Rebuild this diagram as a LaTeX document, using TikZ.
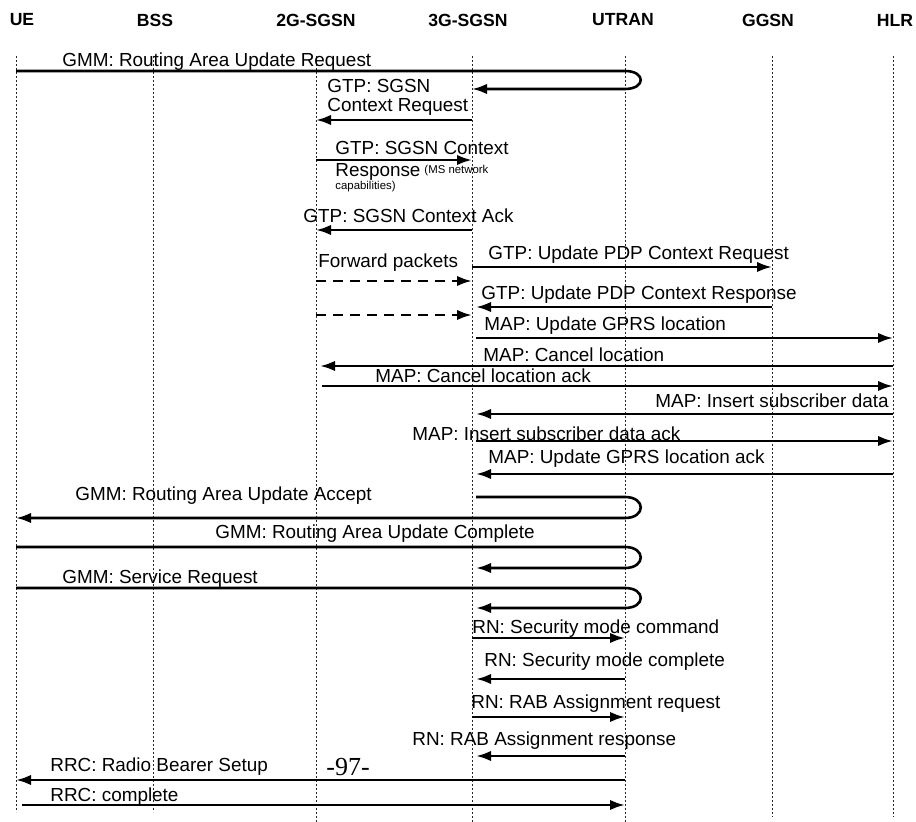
\documentclass[tikz,border=0pt]{standalone}
\usepackage{fontspec}
\setmainfont{Liberation Sans}
\newfontfamily\pagefont{Liberation Serif}
\usetikzlibrary{arrows.meta}

% lifeline positions
\def\xUE{16}
\def\xBSS{153}
\def\xTwoG{316}
\def\xThreeG{472}
\def\xUT{625}
\def\xGG{772}
\def\xHLR{893}

% straight message: name, x from, x to, y, style
\newcommand\sendmsg[5]{%
  \coordinate (#1-s) at (#2,#4);
  \coordinate (#1-e) at (#3,#4);
  \draw[#5] (#1-s) -- (#1-e);}

% message relayed through UTRAN: name, x from, y in, y out, x to
\newcommand\relaymsg[5]{%
  \coordinate (#1-s) at (#2,#3);
  \coordinate (#1-u) at (\xUT,#3);
  \coordinate (#1-v) at (\xUT,#4);
  \coordinate (#1-e) at (#5,#4);
  \draw[msgarrow] (#1-s) -- (#1-u)
    .. controls ([xshift=10.5pt]#1-u) and ([xshift=10.5pt]#1-v) .. (#1-v) -- (#1-e);}

\begin{document}
\begin{tikzpicture}[x=0.5pt,y=-0.5pt,
  lifeline/.style={line width=0.5pt, dash pattern=on 1.2pt off 0.8pt, black!85},
  msgline/.style={line width=1.3pt},
  msgarrow/.style={msgline, -{Latex[length=7.5pt,width=5.2pt]}},
  fwdarrow/.style={msgarrow, dash pattern=on 5pt off 3.5pt},
  head/.style={font=\bfseries\fontsize{8.8pt}{10pt}\selectfont, inner sep=0},
  lbl/.style={font=\fontsize{9.45pt}{11pt}\selectfont, anchor=west, inner sep=0,
    text height=6.8pt, text depth=0pt},
  small/.style={font=\fontsize{5.7pt}{6.5pt}\selectfont, anchor=west, inner sep=0,
    text height=4pt, text depth=0pt},
]
\fill[white] (0,0) rectangle (916,822);
\useasboundingbox (0,0) rectangle (916,822);

% entity headers
\node[head] (hUE)  at (22,20)  {UE};
\node[head] (hBSS) at (155,20) {BSS};
\node[head] (hTwoG) at (316,20) {2G-SGSN};
\node[head] (hThreeG) at (468,20) {3G-SGSN};
\node[head] (hUT)  at (623,20) {UTRAN};
\node[head] (hGG)  at (768,20) {GGSN};
\node[head] (hHLR) at (895,20) {HLR};

% lifelines
\foreach \n/\x/\b in {ue/\xUE/812, bss/\xBSS/812, twog/\xTwoG/822, threeg/\xThreeG/822,
                      utran/\xUT/822, ggsn/\xGG/817, hlr/\xHLR/817} {
  \coordinate (\n-top) at (\x,56);
  \coordinate (\n-bot) at (\x,\b);
  \draw[lifeline] (\n-top) -- (\n-bot);
}

% routing area update
\node[lbl] (l1) at (62,60) {GMM: Routing Area Update Request};
\relaymsg{m1}{\xUE}{71}{89}{\xThreeG}

\node[lbl] (l2a) at (327,86) {GTP: SGSN};
\node[lbl] (l2b) at (327,105) {Context Request};
\sendmsg{m2}{\xThreeG}{\xTwoG}{120}{msgarrow}

\node[lbl] (l3a) at (335,148) {GTP: SGSN Context};
\sendmsg{m3}{\xTwoG}{\xThreeG}{160}{msgarrow}
\node[lbl] (l3b) at (335,170) {Response};
\node[small] (l3c) at (l3b.east) {\ (MS network};
\node[small] (l3d) at (335,186) {capabilities)};

\node[lbl] (l4) at (303,216) {GTP: SGSN Context Ack};
\sendmsg{m4}{\xThreeG}{\xTwoG}{230}{msgarrow}

\node[lbl] (l5) at (488,253) {GTP: Update PDP Context Request};
\sendmsg{m5}{\xThreeG}{\xGG}{267}{msgarrow}

\node[lbl] (l6) at (318,261) {Forward packets};
\sendmsg{m6}{\xTwoG}{\xThreeG}{281}{fwdarrow}

\node[lbl] (l7) at (481,293) {GTP: Update PDP Context Response};
\sendmsg{m7}{\xGG}{476}{307}{msgarrow}
\sendmsg{m8}{\xTwoG}{\xThreeG}{315}{fwdarrow}

\node[lbl] (l9) at (484,324) {MAP: Update GPRS location};
\sendmsg{m9}{476}{\xHLR}{338}{msgarrow}

\node[lbl] (l10) at (483,355) {MAP: Cancel location};
\sendmsg{m10}{\xHLR}{320}{366}{msgarrow}

\node[lbl] (l11) at (375,376) {MAP: Cancel location ack};
\sendmsg{m11}{322}{\xHLR}{386}{msgarrow}

\node[lbl] (l12) at (655,401) {MAP: Insert subscriber data};
\sendmsg{m12}{\xHLR}{476}{414}{msgarrow}

\node[lbl] (l13) at (412,434) {MAP: Insert subscriber data ack};
\sendmsg{m13}{476}{\xHLR}{441}{msgarrow}

\node[lbl] (l14) at (488,457) {MAP: Update GPRS location ack};
\sendmsg{m14}{\xHLR}{476}{474}{msgarrow}

\node[lbl] (l15) at (75,494) {GMM: Routing Area Update Accept};
\relaymsg{m15}{476}{497}{518}{\xUE}

\node[lbl] (l16) at (215,532) {GMM: Routing Area Update Complete};
\relaymsg{m16}{\xUE}{547}{568}{476}

% service request
\node[lbl] (l17) at (62,577) {GMM: Service Request};
\relaymsg{m17}{\xUE}{588}{608}{476}

\node[lbl] (l18) at (472,627) {RN: Security mode command};
\sendmsg{m18}{\xThreeG}{\xUT}{638}{msgarrow}

\node[lbl] (l19) at (484,660) {RN: Security mode complete};
\sendmsg{m19}{\xUT}{476}{679}{msgarrow}

\node[lbl] (l20) at (471,702) {RN: RAB Assignment request};
\sendmsg{m20}{\xThreeG}{\xUT}{717}{msgarrow}

\node[lbl] (l21) at (412,739) {RN: RAB Assignment response};
\sendmsg{m21}{\xUT}{476}{756}{msgarrow}

\node[lbl] (l22) at (50,765) {RRC: Radio Bearer Setup};
\node[font=\pagefont\fontsize{13pt}{15pt}\selectfont, anchor=west, inner sep=0] (pg) at (326,767) {-97-};
\sendmsg{m22}{\xUT}{\xUE}{780}{msgarrow}

\node[lbl] (l23) at (50,795) {RRC: complete};
\sendmsg{m23}{22}{\xUT}{805}{msgarrow}
\end{tikzpicture}
\end{document}
